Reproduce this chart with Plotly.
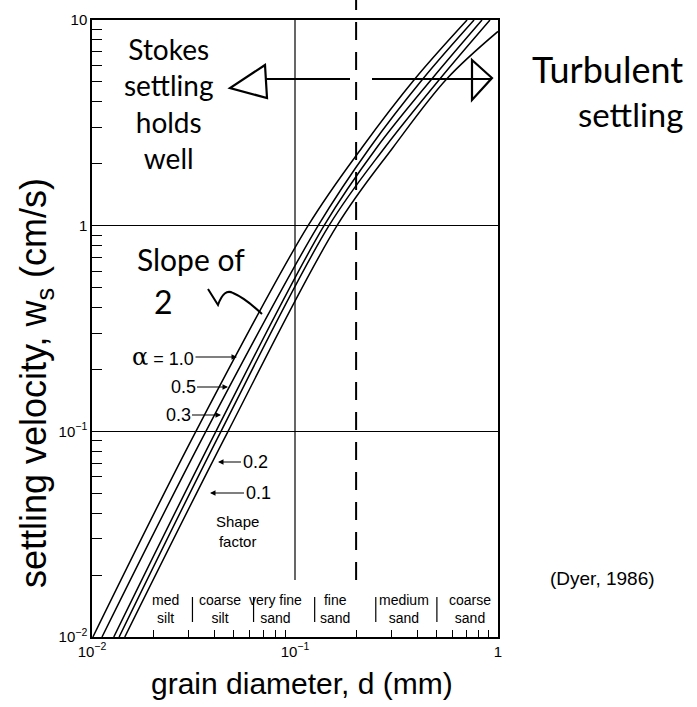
import math
import plotly.graph_objects as go

# ---------------- data ----------------
shape_factors = ["1.0", "0.5", "0.3", "0.2", "0.1"]

d_a10 = [0.0101, 0.0325, 0.116, 0.214, 0.390, 0.704]
w_a10 = [0.010, 0.100, 1.00, 2.40, 5.18, 10.0]

d_a05 = [0.0112, 0.0364, 0.130, 0.234, 0.427, 0.762]
w_a05 = [0.010, 0.100, 1.00, 2.40, 5.18, 10.0]

d_a03 = [0.0128, 0.0408, 0.139, 0.253, 0.473, 0.834]
w_a03 = [0.010, 0.100, 1.00, 2.40, 5.18, 10.0]

d_a02 = [0.0136, 0.0432, 0.147, 0.277, 0.518, 0.913]
w_a02 = [0.010, 0.100, 1.00, 2.40, 5.18, 10.0]

d_a01 = [0.0145, 0.0468, 0.161, 0.304, 0.560, 1.00]
w_a01 = [0.010, 0.100, 1.00, 2.40, 5.18, 8.8]

x_range_log = [-2, 0]
y_range_log = [-2, 1]
x_major = [0.01, 0.1, 1]
x_major_text = ["10<sup>−2</sup>", "10<sup>−1</sup>", "1"]
y_major = [0.01, 0.1, 1, 10]
y_major_text = ["10<sup>−2</sup>", "10<sup>−1</sup>", "1", "10"]

size_bounds = [1 / 32, 1 / 16, 1 / 8, 1 / 4, 1 / 2]
size_labels = ["med<br>silt", "coarse<br>silt", "very fine<br>sand", "fine<br>sand",
               "medium<br>sand", "coarse<br>sand"]

grid_x = 0.1
dash_x = 0.2

# ---------------- layout geometry ----------------
W, H = 697, 707
L, R, T, B = 92, 498, 20, 637


def px(x):
    return (x - L) / (R - L)


def py(y):
    return (B - y) / (B - T)


def xfrac(v):
    return (math.log10(v) - x_range_log[0]) / (x_range_log[1] - x_range_log[0])


def minor_vals(lo, hi):
    vals = []
    for e in range(lo, hi):
        for m in range(2, 10):
            vals.append(m * 10 ** e)
    return vals


fig = go.Figure()
curves = [(d_a10, w_a10), (d_a05, w_a05), (d_a03, w_a03), (d_a02, w_a02), (d_a01, w_a01)]
for name, (dx, wy) in zip(shape_factors, curves):
    fig.add_trace(go.Scatter(x=dx, y=wy, mode="lines", name=name,
                             line=dict(color="black", width=1.5, shape="spline", smoothing=1.0),
                             showlegend=False, hoverinfo="skip"))

BASE = "Liberation Sans, Arial, sans-serif"
HAND = "Lato, Open Sans, sans-serif"

fig.update_layout(
    width=W, height=H,
    margin=dict(l=L, r=W - R, t=T, b=H - B),
    paper_bgcolor="white", plot_bgcolor="white",
    xaxis=dict(type="log", range=x_range_log, showline=True, linecolor="black", linewidth=1.5,
               mirror=True, tickvals=x_major, ticktext=x_major_text, ticks="",
               showgrid=False, zeroline=False,
               tickfont=dict(family=BASE, size=15, color="black"),
               minor=dict(tickmode="array", tickvals=minor_vals(-2, 0), ticks="inside",
                          ticklen=7, tickcolor="black", tickwidth=1.2, showgrid=False)),
    yaxis=dict(type="log", range=y_range_log, showline=True, linecolor="black", linewidth=1.5,
               mirror=True, tickvals=y_major, ticktext=y_major_text, ticks="",
               showgrid=True, gridcolor="black", gridwidth=1.2, zeroline=False,
               tickfont=dict(family=BASE, size=15, color="black"),
               minor=dict(tickmode="array", tickvals=minor_vals(-2, 1), ticks="inside",
                          ticklen=10, tickcolor="black", tickwidth=1.2, showgrid=False)),
)

shapes = []
# vertical solid line at d = 0.1
shapes.append(dict(type="line", xref="paper", yref="paper", x0=xfrac(grid_x), x1=xfrac(grid_x),
                   y0=py(580), y1=1, line=dict(color="black", width=1.2)))
# dashed line at d = 0.2
shapes.append(dict(type="line", xref="paper", yref="paper", x0=xfrac(dash_x), x1=xfrac(dash_x),
                   y0=py(580), y1=py(0), line=dict(color="black", width=2, dash="18px,12px")))
# size class separators
for b in size_bounds:
    shapes.append(dict(type="line", xref="paper", yref="paper", x0=xfrac(b), x1=xfrac(b),
                       y0=py(622), y1=py(597), line=dict(color="black", width=1.2)))
# handwritten arrow line
hand = dict(color="black", width=2.2)
shapes.append(dict(type="line", xref="paper", yref="paper", x0=px(265), x1=px(350),
                   y0=py(79), y1=py(79), line=hand))
shapes.append(dict(type="line", xref="paper", yref="paper", x0=px(372), x1=px(492),
                   y0=py(79), y1=py(79), line=hand))
# triangles
shapes.append(dict(type="path", xref="paper", yref="paper",
                   path=f"M {px(265)},{py(65)} L {px(230)},{py(88)} L {px(267)},{py(98)} Z", line=hand))
shapes.append(dict(type="path", xref="paper", yref="paper",
                   path=f"M {px(472)},{py(60)} L {px(492)},{py(78)} L {px(472)},{py(100)} Z", line=hand))
# squiggle after "2"
shapes.append(dict(type="path", xref="paper", yref="paper",
                   path=(f"M {px(208)},{py(289)} L {px(218)},{py(305)} "
                         f"Q {px(224)},{py(288)} {px(233)},{py(293)} "
                         f"Q {px(245)},{py(298)} {px(262)},{py(314)}"),
                   line=dict(color="black", width=2)))
fig.update_layout(shapes=shapes)

ann = []


def text(x, y, s, size, family=BASE, angle=0, xanchor="center"):
    ann.append(dict(xref="paper", yref="paper", x=px(x), y=py(y), text=s, showarrow=False,
                    font=dict(family=family, size=size, color="black"), textangle=angle,
                    xanchor=xanchor, yanchor="middle"))


# axis titles
text(302, 683, "grain diameter, d (mm)", 30)
text(36, 383, "settling velocity, w<sub>s</sub> (cm/s)", 36, angle=-90)
text(602, 578, "(Dyer, 1986)", 19)

# handwriting
text(168, 104, "Stokes<br>settling<br>holds<br>well", 28, family=HAND)
text(607, 69, "Turbulent", 36, family=HAND)
text(630, 114, "settling", 33, family=HAND)
text(191, 259, "Slope of", 30, family=HAND)
text(163, 301, "2", 32, family=HAND)

# shape factor labels
text(237, 531, "Shape<br>factor", 15)

ALPHA = "<span style='font-family:DejaVu Serif;font-size:24px'>α</span> = 1.0"
arrows = [(ALPHA, 237, 357, -74), ("0.5", 228, 387, -45), ("0.3", 221, 415, -43),
          ("0.2", 218, 462, 37), ("0.1", 210, 493, 48)]
for s, hx, hy, ax in arrows:
    ann.append(dict(xref="paper", yref="paper", x=px(hx), y=py(hy), text=s, showarrow=True,
                    ax=ax, ay=0, arrowhead=2, arrowsize=1, arrowwidth=1.1, arrowcolor="black",
                    font=dict(family=BASE, size=18, color="black")))

# size classes
cx = [165, 220, 275, 335, 404, 470]
for c, s in zip(cx, size_labels):
    text(c, 609, s, 14)

fig.update_layout(annotations=ann)
fig.write_html("out.html")
